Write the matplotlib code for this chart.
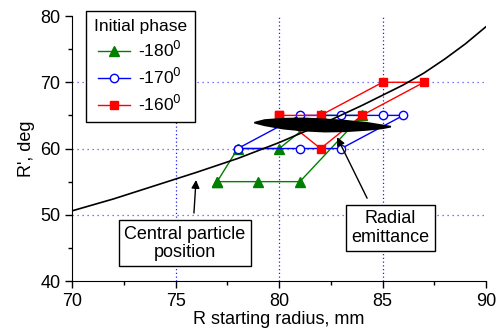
import numpy as np
import matplotlib.pyplot as plt

plt.rcParams['font.family'] = ['Liberation Sans', 'DejaVu Sans']

# phase-plane points for each initial phase (R, mm ; R', deg)
r_180 = [77, 79, 81, 84, 82, 80, 78, 77]
rp_180 = [55, 55, 55, 65, 65, 60, 60, 55]
r_170 = [78, 81, 83, 86, 85, 83, 81, 78]
rp_170 = [60, 60, 60, 65, 65, 65, 65, 60]
r_160 = [80, 82, 85, 87, 84, 82, 80]
rp_160 = [65, 65, 70, 70, 65, 60, 65]

# central particle position curve
r_center = [70, 72, 74, 76, 78, 80, 82, 84, 86, 87, 88, 89, 90]
rp_center = [50.6, 52.4, 54.4, 56.4, 58.5, 60.9, 63.6, 66.5, 69.6, 71.4,
             73.5, 75.8, 78.4]

# radial emittance outline
r_emit = [78.8, 79.3, 80.2, 81.2, 82.2, 83.2, 84.3, 85.0, 85.4, 85.0, 84.2,
          83.2, 82.2, 81.2, 80.2, 79.3, 78.8]
rp_emit = [63.9, 64.3, 64.5, 64.55, 64.4, 64.2, 63.85, 63.5, 63.3, 63.05, 62.8,
           62.6, 62.55, 62.7, 63.0, 63.5, 63.9]

fig = plt.figure(figsize=(5.01, 3.31), dpi=100)
ax = fig.add_axes([0.1443, 0.151, 0.8259, 0.8006])

# dotted grid
for v in [75, 80, 85]:
    ax.axvline(v, color='#2020ff', ls=(0, (1, 2)), lw=0.9, zorder=0)
for h in [50, 60, 70]:
    ax.axhline(h, color='#5050ff', ls=(0, (1, 3)), lw=0.9, zorder=0)

ax.plot(r_180, rp_180, '-^', color='#008000', lw=1.0, ms=6.5,
        label='-180$^0$', zorder=2)
ax.plot(r_170, rp_170, '-o', color='#0000ff', mfc='white', mec='#0000ff',
        lw=1.0, ms=6, mew=1.0, label='-170$^0$', zorder=3)
ax.plot(r_160, rp_160, '-s', color='#ff0000', lw=1.0, ms=5.5,
        label='-160$^0$', zorder=4)

ax.plot(r_center, rp_center, color='black', lw=1.2, zorder=5)

ax.fill(r_emit, rp_emit, color='black', lw=1.2, ec='black', zorder=6)

ax.set_xlim(70, 90)
ax.set_ylim(40, 80)
ax.set_xticks([70, 75, 80, 85, 90])
ax.set_yticks([40, 50, 60, 70, 80])
ax.set_xticks([72.5, 77.5, 82.5, 87.5], minor=True)
ax.set_yticks([45, 55, 65, 75], minor=True)
ax.tick_params(which='major', direction='out', length=5, width=1, labelsize=13)
ax.tick_params(which='minor', direction='out', length=3, width=1)
ax.spines['top'].set_visible(False)
ax.spines['right'].set_visible(False)

ax.set_xlabel('R starting radius, mm', fontsize=13, labelpad=1)
ax.set_ylabel("R', deg", fontsize=13, labelpad=4)

leg = ax.legend(title='Initial phase', loc='upper left',
                bbox_to_anchor=(0.033, 1.019), borderaxespad=0,
                fontsize=12.5, title_fontsize=12.5,
                fancybox=False, edgecolor='black', framealpha=1,
                handlelength=1.8, handletextpad=0.5, numpoints=1,
                borderpad=0.45, labelspacing=0.38)
leg.get_frame().set_linewidth(1.0)

box = dict(boxstyle='square,pad=0.3', fc='white', ec='black', lw=1)
ax.text(75.45, 45.7, 'Central particle\nposition', ha='center', va='center',
        fontsize=13, bbox=box, linespacing=1.1, zorder=7)
ax.text(85.36, 48.0, 'Radial\nemittance', ha='center', va='center',
        fontsize=13, bbox=box, linespacing=1.1, zorder=7)

arrow = dict(arrowstyle='-|>', color='black', lw=1.0, mutation_scale=12,
             shrinkA=0, shrinkB=0)
ax.annotate('', xy=(75.98, 55.25), xytext=(75.88, 50.26), arrowprops=arrow,
            zorder=7)
ax.annotate('', xy=(82.8, 61.7), xytext=(84.25, 52.5), arrowprops=arrow,
            zorder=7)

fig.savefig('out.png', dpi=100)
